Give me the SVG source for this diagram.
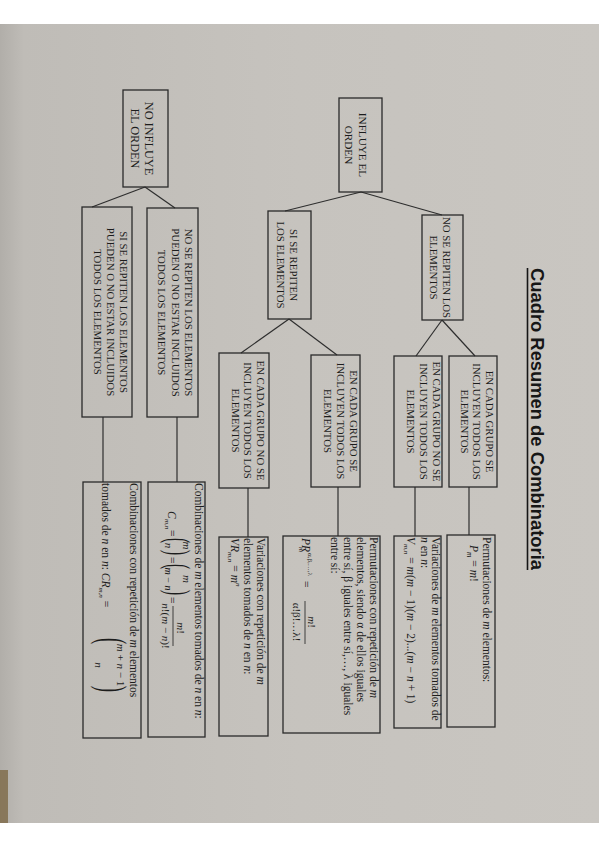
<svg xmlns="http://www.w3.org/2000/svg" width="599" height="848" viewBox="0 0 599 848">
<defs>
<linearGradient id="paper" x1="0" y1="0" x2="1" y2="0">
<stop offset="0" stop-color="#b1aea9"/>
<stop offset="0.04" stop-color="#bfbcb7"/>
<stop offset="0.5" stop-color="#c6c3be"/>
<stop offset="1" stop-color="#c9c6c1"/>
</linearGradient>
<style>
.box{fill:none;stroke:#2a2a2a;stroke-width:1.3}
.conn line{stroke:#2e2e2e;stroke-width:1.2}
.t{font-family:"Liberation Serif","Times New Roman",serif;font-size:10.8px;fill:#1c1c1c}
.c{text-anchor:middle}
.f{font-size:11.5px}
.i{font-style:italic}
.title{font-family:"Liberation Sans",Arial,sans-serif;font-weight:bold;font-size:19px;fill:#161616}
</style>
</defs>
<rect x="0" y="0" width="599" height="848" fill="#ffffff"/>
<rect x="0" y="24" width="599" height="799" fill="url(#paper)"/>
<rect x="0" y="770" width="8" height="53" fill="#7a6440" opacity="0.75"/>

<g id="title">
<text class="title" transform="translate(531,268) rotate(90)" textLength="302" lengthAdjust="spacingAndGlyphs">Cuadro Resumen de Combinatoria</text>
<line x1="527.5" y1="268" x2="527.5" y2="570" stroke="#161616" stroke-width="1.6"/>
</g>

<g id="connectors" class="conn">
<line x1="145" y1="187" x2="92" y2="207"/>
<line x1="145" y1="187" x2="175" y2="208"/>
<line x1="361" y1="192" x2="285" y2="211"/>
<line x1="361" y1="192" x2="442" y2="215"/>
<line x1="289" y1="319" x2="241" y2="353"/>
<line x1="289" y1="319" x2="337" y2="355"/>
<line x1="442" y1="320" x2="416" y2="356"/>
<line x1="442" y1="320" x2="475" y2="356"/>
<line x1="103" y1="417" x2="103" y2="482"/>
<line x1="177" y1="417" x2="177" y2="482"/>
<line x1="248" y1="488" x2="248" y2="537"/>
<line x1="338" y1="487" x2="338" y2="536"/>
<line x1="415" y1="487" x2="415" y2="536"/>
<line x1="469" y1="487" x2="469" y2="535"/>
</g>

<g id="no-influye">
<rect class="box" x="123" y="90" width="45" height="97"/>
<text class="t c" style="font-size:12.3px" transform="translate(145,138.5) rotate(90)">NO INFLUYE</text>
<text class="t c" style="font-size:12.3px" transform="translate(131,138.5) rotate(90)">EL ORDEN</text>
</g>

<g id="influye">
<rect class="box" x="339" y="98" width="43" height="94"/>
<text class="t c" style="font-size:11.2px" transform="translate(359,145) rotate(90)">INFLUYE EL</text>
<text class="t c" style="font-size:11.2px" transform="translate(345,145) rotate(90)">ORDEN</text>
</g>

<g id="nr-no-orden">
<rect class="box" x="147" y="208" width="51" height="209"/>
<text class="t c" transform="translate(185,312.5) rotate(90)">NO SE REPITEN LOS ELEMENTOS</text>
<text class="t c" transform="translate(172,312.5) rotate(90)">PUEDEN O NO ESTAR INCLUIDOS</text>
<text class="t c" transform="translate(158,312.5) rotate(90)">TODOS LOS ELEMENTOS</text>
</g>

<g id="sr-no-orden">
<rect class="box" x="82" y="207" width="50" height="210"/>
<text class="t c" transform="translate(120,312) rotate(90)">SI SE REPITEN LOS ELEMENTOS</text>
<text class="t c" transform="translate(107,312) rotate(90)">PUEDEN O NO ESTAR INCLUIDOS</text>
<text class="t c" transform="translate(94,312) rotate(90)">TODOS LOS ELEMENTOS</text>
</g>

<g id="si-se-repiten">
<rect class="box" x="268" y="211" width="43" height="108"/>
<text class="t c" transform="translate(290,265) rotate(90)">SI SE REPITEN</text>
<text class="t c" transform="translate(277,265) rotate(90)">LOS ELEMENTOS</text>
</g>

<g id="no-se-repiten">
<rect class="box" x="422" y="215" width="41" height="105"/>
<text class="t c" transform="translate(443,267.5) rotate(90)">NO SE REPITEN LOS</text>
<text class="t c" transform="translate(430,267.5) rotate(90)">ELEMENTOS</text>
</g>

<g id="sr-no-incluyen">
<rect class="box" x="219" y="353" width="50" height="135"/>
<text class="t c" transform="translate(257,420.5) rotate(90)">EN CADA GRUPO NO SE</text>
<text class="t c" transform="translate(244,420.5) rotate(90)">INCLUYEN TODOS LOS</text>
<text class="t c" transform="translate(232,420.5) rotate(90)">ELEMENTOS</text>
</g>

<g id="sr-incluyen">
<rect class="box" x="311" y="355" width="49" height="132"/>
<text class="t c" transform="translate(350,421) rotate(90)">EN CADA GRUPO SE</text>
<text class="t c" transform="translate(337,421) rotate(90)">INCLUYEN TODOS LOS</text>
<text class="t c" transform="translate(324,421) rotate(90)">ELEMENTOS</text>
</g>

<g id="nr-no-incluyen">
<rect class="box" x="394" y="356" width="48" height="131"/>
<text class="t c" transform="translate(433,421.5) rotate(90)">EN CADA GRUPO NO SE</text>
<text class="t c" transform="translate(420,421.5) rotate(90)">INCLUYEN TODOS LOS</text>
<text class="t c" transform="translate(407,421.5) rotate(90)">ELEMENTOS</text>
</g>

<g id="nr-incluyen">
<rect class="box" x="449" y="356" width="48" height="131"/>
<text class="t c" transform="translate(486,421.5) rotate(90)">EN CADA GRUPO SE</text>
<text class="t c" transform="translate(473,421.5) rotate(90)">INCLUYEN TODOS LOS</text>
<text class="t c" transform="translate(461,421.5) rotate(90)">ELEMENTOS</text>
</g>

<g id="permutaciones">
<rect class="box" x="447" y="535" width="48" height="192"/>
<text class="t f" transform="translate(483,537) rotate(90)">Permutaciones de <tspan class="i">m</tspan> elementos:</text>
<text class="t f" transform="translate(470,545) rotate(90)"><tspan class="i">P</tspan><tspan class="i" font-size="7.5" dy="3">m</tspan><tspan dy="-3"> = </tspan><tspan class="i">m</tspan>!</text>
</g>

<g id="variaciones">
<rect class="box" x="394" y="536" width="47" height="192"/>
<text class="t f" transform="translate(432,537) rotate(90)">Variaciones de <tspan class="i">m</tspan> elementos tomados de</text>
<text class="t f" transform="translate(421,537) rotate(90)"><tspan class="i">n</tspan> en <tspan class="i">n</tspan>:</text>
<text class="t f" transform="translate(407,537) rotate(90)"><tspan class="i">V</tspan><tspan class="i" font-size="7" dy="3">m,n</tspan><tspan dy="-3"> = </tspan><tspan class="i">m</tspan>(<tspan class="i">m</tspan> − 1)(<tspan class="i">m</tspan> − 2)...(<tspan class="i">m</tspan> − <tspan class="i">n</tspan> + 1)</text>
</g>

<g id="permutaciones-rep">
<rect class="box" x="283" y="536" width="97" height="197"/>
<text class="t f" transform="translate(370,537) rotate(90)">Permutaciones con repetición de <tspan class="i">m</tspan></text>
<text class="t f" transform="translate(357,537) rotate(90)">elementos, siendo α de ellos iguales</text>
<text class="t f" transform="translate(344,537) rotate(90)">entre sí, β iguales entre sí,…, λ iguales</text>
<text class="t f" transform="translate(331,537) rotate(90)">entre sí:</text>
<text class="t f i" transform="translate(302,538) rotate(90)">PR</text>
<text class="t i" style="font-size:7px" transform="translate(299,547) rotate(90)">m</text>
<text class="t" style="font-size:7px" transform="translate(308,553) rotate(90)">α,β,…,λ</text>
<text class="t f" transform="translate(302,581) rotate(90)">=</text>
<line x1="305" y1="601" x2="305" y2="644" stroke="#1c1c1c" stroke-width="0.8"/>
<text class="t c" style="font-size:11px" transform="translate(308,622) rotate(90)"><tspan class="i">m</tspan>!</text>
<text class="t c" style="font-size:11px" transform="translate(293,622) rotate(90)">α!β!…λ!</text>
</g>

<g id="variaciones-rep">
<rect class="box" x="219" y="537" width="49" height="199"/>
<text class="t f" transform="translate(257,538) rotate(90)">Variaciones con repetición de <tspan class="i">m</tspan></text>
<text class="t f" transform="translate(244,538) rotate(90)">elementos tomados de <tspan class="i">n</tspan> en <tspan class="i">n</tspan>:</text>
<text class="t f" transform="translate(231,538) rotate(90)"><tspan class="i">VR</tspan><tspan class="i" font-size="7" dy="3">m,n</tspan><tspan dy="-3"> = </tspan><tspan class="i">m</tspan><tspan class="i" font-size="7" dy="-5">n</tspan></text>
</g>

<g id="combinaciones">
<rect class="box" x="148" y="482" width="57" height="255"/>
<text class="t f" transform="translate(195,483) rotate(90)">Combinaciones de <tspan class="i">m</tspan> elementos tomados de <tspan class="i">n</tspan> en <tspan class="i">n</tspan>:</text>
<text class="t f i" transform="translate(168,511) rotate(90)">C</text>
<text class="t i" style="font-size:7px" transform="translate(165,519) rotate(90)">m,n</text>
<text class="t f" transform="translate(168,530) rotate(90)">=</text>
<text class="t" style="font-size:34px" transform="translate(167,538) rotate(90) scale(0.45,1)">(</text>
<text class="t c i" style="font-size:11px" transform="translate(183,545.5) rotate(90)">m</text>
<text class="t c i" style="font-size:11px" transform="translate(165,545.5) rotate(90)">n</text>
<text class="t" style="font-size:34px" transform="translate(167,550) rotate(90) scale(0.45,1)">)</text>
<text class="t f" transform="translate(168,557) rotate(90)">=</text>
<text class="t" style="font-size:34px" transform="translate(167,564) rotate(90) scale(0.45,1)">(</text>
<text class="t c i" style="font-size:11px" transform="translate(183,579) rotate(90)">m</text>
<text class="t c" style="font-size:10px" transform="translate(165,579) rotate(90)"><tspan class="i">m</tspan> − <tspan class="i">n</tspan></text>
<text class="t" style="font-size:34px" transform="translate(167,590) rotate(90) scale(0.45,1)">)</text>
<text class="t f" transform="translate(168,597) rotate(90)">=</text>
<line x1="173" y1="606" x2="173" y2="646" stroke="#1c1c1c" stroke-width="0.8"/>
<text class="t c" style="font-size:11px" transform="translate(177,628) rotate(90)"><tspan class="i">m</tspan>!</text>
<text class="t c" style="font-size:11px" transform="translate(162,626) rotate(90)"><tspan class="i">n</tspan>!(<tspan class="i">m</tspan> − <tspan class="i">n</tspan>)!</text>
</g>

<g id="combinaciones-rep">
<rect class="box" x="83" y="482" width="58" height="256"/>
<text class="t f" transform="translate(130,483) rotate(90)">Combinaciones con repetición de <tspan class="i">m</tspan> elementos</text>
<text class="t f" transform="translate(102,483) rotate(90)">tomados de <tspan class="i">n</tspan> en <tspan class="i">n</tspan>: <tspan class="i">CR</tspan><tspan class="i" font-size="7" dy="3">m,n</tspan><tspan dy="-3"> = </tspan></text>
<text class="t" style="font-size:40px" transform="translate(99,638) rotate(90) scale(0.45,1)">(</text>
<text class="t c" style="font-size:11px" transform="translate(117,665) rotate(90)"><tspan class="i">m</tspan> + <tspan class="i">n</tspan> − 1</text>
<text class="t c i" style="font-size:11px" transform="translate(95,665) rotate(90)">n</text>
<text class="t" style="font-size:40px" transform="translate(99,686) rotate(90) scale(0.45,1)">)</text>
</g>
</svg>
